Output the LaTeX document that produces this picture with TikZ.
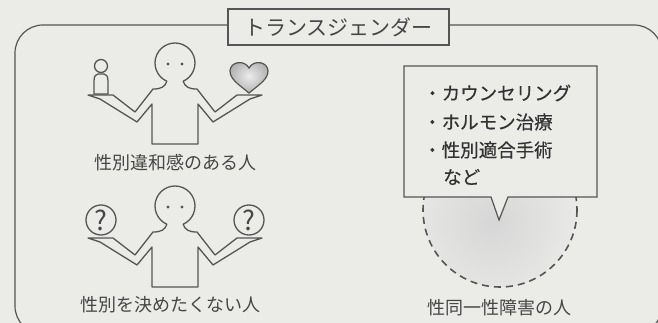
\documentclass[tikz,border=0pt]{standalone}
\usepackage{fontspec}
\newfontfamily\jp{Noto Sans CJK JP}
\newfontfamily\jpm[FakeBold=0.4]{Noto Sans CJK JP}
\definecolor{paper}{RGB}{235,235,232}
\definecolor{ink}{RGB}{85,85,85}
\definecolor{txt}{RGB}{70,70,70}
\definecolor{txtdark}{RGB}{50,50,50}
\tikzset{
  outline/.style={draw=ink, line width=1.3pt, line join=round, line cap=round},
  frameline/.style={draw=ink, line width=1.2pt},
  titlebox/.style={draw=ink, line width=1.2pt, fill=paper, minimum width=221pt,
    minimum height=36pt, inner sep=0pt, font=\jp\fontsize{21}{25}\selectfont, text=txt},
  lbl/.style={inner sep=0pt, font=\jp\fontsize{18}{22}\selectfont, text=txt},
  item/.style={inner sep=0pt, anchor=west, font=\jpm\fontsize{18.5}{22}\selectfont, text=txtdark},
  qmark/.style={inner sep=0pt, font=\jp\fontsize{27}{30}\selectfont, text=txt},
  person/.pic={
    % head, neck, arms with flat palms, torso
    \draw[outline, fill=paper] (114:20) arc[start angle=114, end angle=426, radius=20]
      .. controls (10,24) and (14,26) .. (22,26)
      -- (40,49) -- (62,32) -- (87,32) -- (75,36) -- (38,59) -- (23,41) -- (23,81)
      -- (-23,81) -- (-23,41) -- (-38,59) -- (-75,36) -- (-87,32) -- (-62,32)
      -- (-40,49) -- (-22,26)
      .. controls (-14,26) and (-10,24) .. (114:20) -- cycle;
    \fill[ink] (-7,1) circle (1.6);
    \fill[ink] (7,1) circle (1.6);
  }
}
\begin{document}
\begin{tikzpicture}[x=1pt,y=-1pt]
\useasboundingbox (0,0) rectangle (658,323);
\fill[paper] (0,0) rectangle (658,323);
\clip (0,0) rectangle (658,323);

% outer frame
\draw[frameline, rounded corners=28pt] (15,25) rectangle (662,334);
\node[titlebox] (title) at (338.5,27) {トランスジェンダー};

% person with gender dysphoria
\pic (p1) at (175,63) {person};
\draw[outline, fill=paper] (101,66) circle (6.5);
\draw[outline, fill=paper] (94,94) -- (94,81) .. controls (94,76) and (96,74) .. (98,74)
  -- (104,74) .. controls (106,74) and (108,76) .. (108,81) -- (108,94) -- cycle;
\shade[inner color=gray!15, outer color=gray!60, draw=ink, line width=1.2pt]
  (249,93) .. controls (238,84) and (230,79) .. (230,71)
  .. controls (230,62) and (244,59) .. (249,68)
  .. controls (254,59) and (268,62) .. (268,71)
  .. controls (268,79) and (260,84) .. (249,93) -- cycle;
\node[lbl] (lab1) at (175,163) {性別違和感のある人};

% person who does not want to decide
\pic (p2) at (175,206) {person};
\draw[outline, fill=paper] (101,220) circle (15);
\draw[outline, fill=paper] (249,220) circle (15);
\node[qmark] (q1) at (101,220) {?};
\node[qmark] (q2) at (249,220) {?};
\node[lbl] (lab2) at (170,305) {性別を決めたくない人};

% GID: soft shadow inside dashed circle
\begin{scope}
  \clip (500,210) circle (77);
  \shade[inner color=gray!32, outer color=paper] (492,222) circle (95);
\end{scope}
\draw[draw=ink, line width=1.6pt, dash pattern=on 7pt off 5pt] (500,210) circle (77);
\draw[frameline, fill=paper, line join=miter]
  (404,66) -- (597,66) -- (597,197) -- (508,197) -- (499,220) -- (491,197) -- (404,197) -- cycle;
\node[item] (t1) at (423,93) {・カウンセリング};
\node[item] (t2) at (423,122) {・ホルモン治療};
\node[item] (t3) at (423,150) {・性別適合手術};
\node[item] (t4) at (443,177) {など};
\node[lbl] (lab3) at (499,308) {性同一性障害の人};
\end{tikzpicture}
\end{document}
